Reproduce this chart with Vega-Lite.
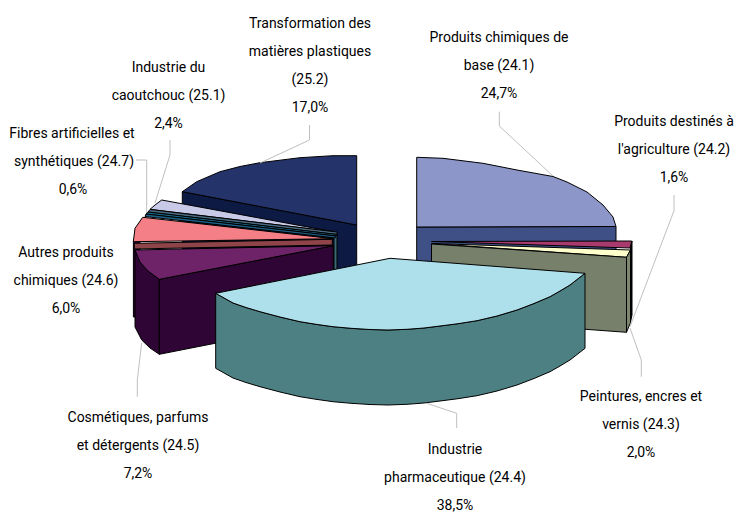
{"$schema":"https://vega.github.io/schema/vega-lite/v6.json","width":735,"height":513,"autosize":{"type":"fit","contains":"padding"},"padding":0,"background":"#ffffff","view":{"stroke":null},
"layer":[
{"data":{"values":[
{"p":"a","i":0,"x":182.3,"y":191.7},{"p":"a","i":1,"x":356.7,"y":225},{"p":"a","i":2,"x":356.7,"y":298},{"p":"a","i":3,"x":182.3,"y":265},{"p":"a","i":4,"x":182.3,"y":191.7},
{"p":"b","i":0,"x":182.3,"y":191.7},{"p":"b","i":1,"x":196.7,"y":181.7},{"p":"b","i":2,"x":220,"y":171.7},{"p":"b","i":3,"x":240,"y":166.5},{"p":"b","i":4,"x":260,"y":162.7},{"p":"b","i":5,"x":300,"y":157.7},{"p":"b","i":6,"x":333,"y":155.7},{"p":"b","i":7,"x":356.7,"y":155.7},{"p":"b","i":8,"x":356.7,"y":225},{"p":"b","i":9,"x":182.3,"y":191.7},
{"p":"c","i":0,"x":416.7,"y":227},{"p":"c","i":1,"x":616,"y":226.5},{"p":"c","i":2,"x":616,"y":300},{"p":"c","i":3,"x":416.7,"y":300},{"p":"c","i":4,"x":416.7,"y":227},
{"p":"d","i":0,"x":416.7,"y":227},{"p":"d","i":1,"x":416.7,"y":157.3},{"p":"d","i":2,"x":443,"y":158.3},{"p":"d","i":3,"x":483,"y":163.3},{"p":"d","i":4,"x":517,"y":170},{"p":"d","i":5,"x":553,"y":176.5},{"p":"d","i":6,"x":567,"y":182},{"p":"d","i":7,"x":587,"y":192},{"p":"d","i":8,"x":603,"y":205},{"p":"d","i":9,"x":613,"y":217},{"p":"d","i":10,"x":616,"y":226.5},{"p":"d","i":11,"x":416.7,"y":227},
{"p":"e","i":0,"x":630.5,"y":248},{"p":"e","i":1,"x":632,"y":241},{"p":"e","i":2,"x":632,"y":315},{"p":"e","i":3,"x":630.5,"y":322},{"p":"e","i":4,"x":630.5,"y":248},
{"p":"f","i":0,"x":431.5,"y":241.5},{"p":"f","i":1,"x":631.7,"y":241},{"p":"f","i":2,"x":630,"y":248},{"p":"f","i":3,"x":431.5,"y":241.5},
{"p":"g","i":0,"x":431.5,"y":243.5},{"p":"g","i":1,"x":630.5,"y":250},{"p":"g","i":2,"x":626.5,"y":257.3},{"p":"g","i":3,"x":431.5,"y":243.5},
{"p":"h","i":0,"x":431.5,"y":244},{"p":"h","i":1,"x":626.5,"y":257.3},{"p":"h","i":2,"x":626.5,"y":332.3},{"p":"h","i":3,"x":431.5,"y":318},{"p":"h","i":4,"x":431.5,"y":244},
{"p":"i","i":0,"x":626.5,"y":257.3},{"p":"i","i":1,"x":630.5,"y":250},{"p":"i","i":2,"x":630.5,"y":322.6},{"p":"i","i":3,"x":626.5,"y":332.3},{"p":"i","i":4,"x":626.5,"y":257.3},
{"p":"j","i":0,"x":334,"y":234},{"p":"j","i":1,"x":337,"y":234},{"p":"j","i":2,"x":337,"y":270},{"p":"j","i":3,"x":334,"y":270},{"p":"j","i":4,"x":334,"y":234},
{"p":"k","i":0,"x":161.7,"y":200},{"p":"k","i":1,"x":155,"y":205},{"p":"k","i":2,"x":150,"y":209.3},{"p":"k","i":3,"x":333.3,"y":231.7},{"p":"k","i":4,"x":161.7,"y":200},
{"p":"l","i":0,"x":150,"y":209.5},{"p":"l","i":1,"x":337,"y":232},{"p":"l","i":2,"x":337,"y":234.5},{"p":"l","i":3,"x":148,"y":212},{"p":"l","i":4,"x":150,"y":209.5},
{"p":"m","i":0,"x":148,"y":212},{"p":"m","i":1,"x":337,"y":234.5},{"p":"m","i":2,"x":336,"y":236},{"p":"m","i":3,"x":146,"y":214},{"p":"m","i":4,"x":148,"y":212},
{"p":"n","i":0,"x":146,"y":214},{"p":"n","i":1,"x":336,"y":236},{"p":"n","i":2,"x":335,"y":238},{"p":"n","i":3,"x":145,"y":216.5},{"p":"n","i":4,"x":146,"y":214},
{"p":"o","i":0,"x":133.4,"y":241},{"p":"o","i":1,"x":140,"y":241},{"p":"o","i":2,"x":140,"y":317},{"p":"o","i":3,"x":133.4,"y":317},{"p":"o","i":4,"x":133.4,"y":241},
{"p":"q","i":0,"x":333.3,"y":238.7},{"p":"q","i":1,"x":142.7,"y":217.3},{"p":"q","i":2,"x":135,"y":228.3},{"p":"q","i":3,"x":133.3,"y":241.7},{"p":"q","i":4,"x":333.3,"y":238.7},
{"p":"r","i":0,"x":134.3,"y":243.3},{"p":"r","i":1,"x":332.3,"y":239.3},{"p":"r","i":2,"x":332.3,"y":245},{"p":"r","i":3,"x":134.3,"y":249},{"p":"r","i":4,"x":134.3,"y":243.3},
{"p":"s","i":0,"x":135,"y":250},{"p":"s","i":1,"x":140,"y":262},{"p":"s","i":2,"x":148,"y":271},{"p":"s","i":3,"x":159.3,"y":279.3},{"p":"s","i":4,"x":159.3,"y":354.3},{"p":"s","i":5,"x":150,"y":348},{"p":"s","i":6,"x":141.7,"y":340},{"p":"s","i":7,"x":135,"y":327},{"p":"s","i":8,"x":135,"y":250},
{"p":"s2","i":0,"x":159.3,"y":279.3},{"p":"s2","i":1,"x":333.3,"y":245.7},{"p":"s2","i":2,"x":333.3,"y":320},{"p":"s2","i":3,"x":159.3,"y":354.3},{"p":"s2","i":4,"x":159.3,"y":279.3},
{"p":"t","i":0,"x":135,"y":250},{"p":"t","i":1,"x":333.3,"y":245.7},{"p":"t","i":2,"x":159.3,"y":279.3},{"p":"t","i":3,"x":148,"y":271},{"p":"t","i":4,"x":140,"y":262},{"p":"t","i":5,"x":135,"y":250},
{"p":"u","i":0,"x":215.7,"y":293.3},{"p":"u","i":1,"x":233,"y":303},{"p":"u","i":2,"x":246,"y":307.5},{"p":"u","i":3,"x":260,"y":311.7},{"p":"u","i":4,"x":280,"y":317},{"p":"u","i":5,"x":300,"y":321.7},{"p":"u","i":6,"x":316,"y":324.3},{"p":"u","i":7,"x":333,"y":326.7},{"p":"u","i":8,"x":351,"y":328.3},{"p":"u","i":9,"x":370,"y":329.5},{"p":"u","i":10,"x":388,"y":330},{"p":"u","i":11,"x":407,"y":329.3},{"p":"u","i":12,"x":424,"y":328},{"p":"u","i":13,"x":440,"y":326},{"p":"u","i":14,"x":458,"y":323.7},{"p":"u","i":15,"x":477,"y":320.7},{"p":"u","i":16,"x":497,"y":316},{"p":"u","i":17,"x":517,"y":310},{"p":"u","i":18,"x":534,"y":303.5},{"p":"u","i":19,"x":550,"y":296.7},{"p":"u","i":20,"x":560,"y":291},{"p":"u","i":21,"x":570,"y":285},{"p":"u","i":22,"x":585,"y":273.3},{"p":"u","i":23,"x":585,"y":348.3},{"p":"u","i":24,"x":570,"y":360},{"p":"u","i":25,"x":560,"y":366},{"p":"u","i":26,"x":550,"y":371.7},{"p":"u","i":27,"x":534,"y":378.5},{"p":"u","i":28,"x":517,"y":385},{"p":"u","i":29,"x":497,"y":391},{"p":"u","i":30,"x":477,"y":395.7},{"p":"u","i":31,"x":458,"y":398.7},{"p":"u","i":32,"x":440,"y":401},{"p":"u","i":33,"x":424,"y":403},{"p":"u","i":34,"x":407,"y":404.3},{"p":"u","i":35,"x":388,"y":405},{"p":"u","i":36,"x":370,"y":404.5},{"p":"u","i":37,"x":351,"y":403.3},{"p":"u","i":38,"x":333,"y":401.7},{"p":"u","i":39,"x":316,"y":399.3},{"p":"u","i":40,"x":300,"y":396.7},{"p":"u","i":41,"x":280,"y":392},{"p":"u","i":42,"x":260,"y":386.7},{"p":"u","i":43,"x":246,"y":382.5},{"p":"u","i":44,"x":233,"y":378},{"p":"u","i":45,"x":215.7,"y":368.3},{"p":"u","i":46,"x":215.7,"y":293.3},
{"p":"v","i":0,"x":390,"y":258.3},{"p":"v","i":1,"x":585,"y":273.3},{"p":"v","i":2,"x":570,"y":285},{"p":"v","i":3,"x":560,"y":291},{"p":"v","i":4,"x":550,"y":296.7},{"p":"v","i":5,"x":534,"y":303.5},{"p":"v","i":6,"x":517,"y":310},{"p":"v","i":7,"x":497,"y":316},{"p":"v","i":8,"x":477,"y":320.7},{"p":"v","i":9,"x":458,"y":323.7},{"p":"v","i":10,"x":440,"y":326},{"p":"v","i":11,"x":424,"y":328},{"p":"v","i":12,"x":407,"y":329.3},{"p":"v","i":13,"x":388,"y":330},{"p":"v","i":14,"x":370,"y":329.5},{"p":"v","i":15,"x":351,"y":328.3},{"p":"v","i":16,"x":333,"y":326.7},{"p":"v","i":17,"x":316,"y":324.3},{"p":"v","i":18,"x":300,"y":321.7},{"p":"v","i":19,"x":280,"y":317},{"p":"v","i":20,"x":260,"y":311.7},{"p":"v","i":21,"x":246,"y":307.5},{"p":"v","i":22,"x":233,"y":303},{"p":"v","i":23,"x":215.7,"y":293.3},{"p":"v","i":24,"x":390,"y":258.3}
]},
"mark":{"type":"line","stroke":"#000000","strokeWidth":1,"strokeJoin":"round"},
"encoding":{
"x":{"field":"x","type":"quantitative","scale":{"domain":[0,735],"nice":false,"zero":false},"axis":null},
"y":{"field":"y","type":"quantitative","scale":{"domain":[513,0],"nice":false,"zero":false},"axis":null},
"detail":{"field":"p"},
"order":{"field":"i","type":"quantitative"},
"fill":{"field":"p","type":"nominal","legend":null,"scale":{"domain":["a","b","c","d","e","f","g","h","i","j","k","l","m","n","o","q","r","s","s2","t","u","v"],"range":["#0C1A44","#25336B","#3F5087","#8C96C8","#000000","#A83A6E","#FFFFCC","#77806A","#7D866F","#3C6A78","#C9C9E8","#4A6A80","#1A6A8A","#1E5F85","#2E0534","#F47F86","#8E4448","#2E0534","#2E0534","#6E2368","#4D8083","#AEE0EB"]}}
}},
{"data":{"values":[
{"l":"1","i":0,"x":309.5,"y":125},{"l":"1","i":1,"x":309.5,"y":140},{"l":"1","i":2,"x":260,"y":163},
{"l":"2","i":0,"x":170,"y":140},{"l":"2","i":1,"x":170,"y":155},{"l":"2","i":2,"x":155,"y":203},
{"l":"3","i":0,"x":136,"y":160},{"l":"3","i":1,"x":146.7,"y":160},{"l":"3","i":2,"x":146.7,"y":213},
{"l":"4","i":0,"x":499.3,"y":111.7},{"l":"4","i":1,"x":499.3,"y":126},{"l":"4","i":2,"x":553,"y":176},
{"l":"5","i":0,"x":674,"y":195},{"l":"5","i":1,"x":674,"y":210.7},{"l":"5","i":2,"x":630,"y":326.7},
{"l":"6","i":0,"x":630,"y":328},{"l":"6","i":1,"x":641.3,"y":360},{"l":"6","i":2,"x":641.3,"y":376.7},
{"l":"7","i":0,"x":426.7,"y":403.3},{"l":"7","i":1,"x":456.7,"y":413.3},{"l":"7","i":2,"x":456.7,"y":428},
{"l":"8","i":0,"x":141.7,"y":343},{"l":"8","i":1,"x":137.3,"y":380},{"l":"8","i":2,"x":137.3,"y":396.7}
]},
"mark":{"type":"line","stroke":"#BFBFBF","strokeWidth":1},
"encoding":{
"x":{"field":"x","type":"quantitative","scale":{"domain":[0,735],"nice":false,"zero":false},"axis":null},
"y":{"field":"y","type":"quantitative","scale":{"domain":[513,0],"nice":false,"zero":false},"axis":null},
"detail":{"field":"l"},
"order":{"field":"i","type":"quantitative"}
}},
{"data":{"values":[
{"t":"Transformation des","x":310,"y":23},{"t":"matières plastiques","x":310,"y":51},{"t":"(25.2)","x":310,"y":79},{"t":"17,0%","x":310,"y":107},
{"t":"Industrie du","x":168.5,"y":67},{"t":"caoutchouc (25.1)","x":168.5,"y":95},{"t":"2,4%","x":168.5,"y":123},
{"t":"Fibres artificielles et","x":72,"y":133},{"t":"synthétiques (24.7)","x":74,"y":161},{"t":"0,6%","x":73,"y":189},
{"t":"Produits chimiques de","x":499,"y":37},{"t":"base (24.1)","x":499,"y":65},{"t":"24,7%","x":499,"y":93},
{"t":"Produits destinés à","x":674,"y":121},{"t":"l'agriculture (24.2)","x":674,"y":149},{"t":"1,6%","x":674,"y":177},
{"t":"Autres produits","x":66,"y":252},{"t":"chimiques (24.6)","x":66,"y":280},{"t":"6,0%","x":66,"y":308},
{"t":"Cosmétiques, parfums","x":138,"y":417},{"t":"et détergents (24.5)","x":138,"y":445},{"t":"7,2%","x":138,"y":473},
{"t":"Industrie","x":455,"y":449},{"t":"pharmaceutique (24.4)","x":455,"y":477},{"t":"38,5%","x":455,"y":505},
{"t":"Peintures, encres et","x":641,"y":396},{"t":"vernis (24.3)","x":641,"y":424},{"t":"2,0%","x":641,"y":452}
]},
"mark":{"type":"text","font":"Roboto","fontSize":14,"dy":1,"color":"#000000","align":"center","baseline":"middle"},
"encoding":{
"x":{"field":"x","type":"quantitative","scale":{"domain":[0,735],"nice":false,"zero":false},"axis":null},
"y":{"field":"y","type":"quantitative","scale":{"domain":[513,0],"nice":false,"zero":false},"axis":null},
"text":{"field":"t"}
}}
]}
